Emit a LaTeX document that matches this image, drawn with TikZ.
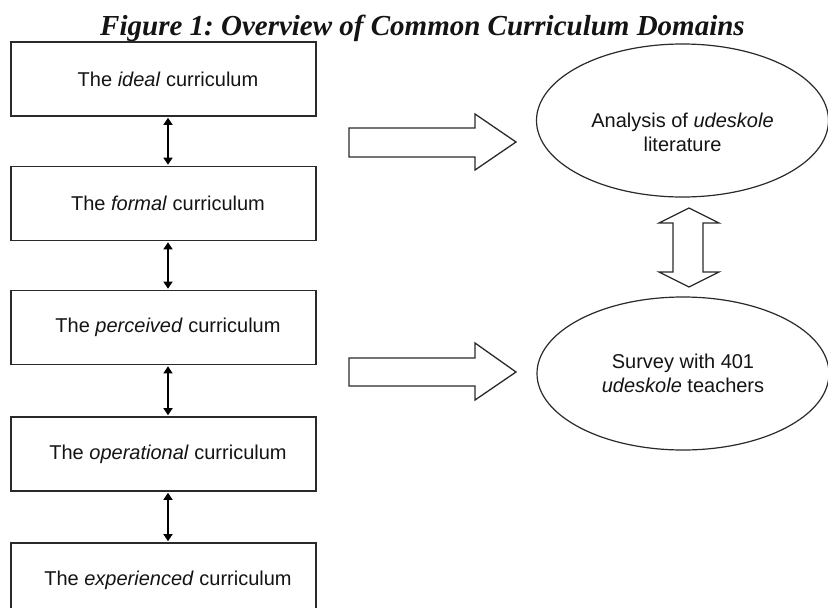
\documentclass[tikz,border=0pt]{standalone}
\usepackage{fontspec}
\setmainfont{Liberation Serif}
\newfontfamily\arialf{Liberation Sans}
\usetikzlibrary{shapes.geometric,arrows.meta}
\definecolor{linegray}{HTML}{2A2A2A}
\definecolor{textblack}{HTML}{141414}
\frenchspacing
\begin{document}
\begin{tikzpicture}[x=1pt,y=-1pt,
  every node/.style={text=textblack},
  cbox/.style={draw=linegray, line width=1.6pt, minimum width=305pt, minimum height=74pt,
    inner sep=0pt, font=\arialf\fontsize{20}{24}\selectfont},
  oval/.style={draw=linegray, line width=1.2pt, ellipse, minimum width=292pt, minimum height=153pt, inner sep=0pt},
  ovaltext/.style={align=center, font=\arialf\fontsize{20}{24}\selectfont, inner sep=0pt},
  link/.style={draw=black, line width=1.5pt, {Triangle[width=9pt,length=7pt]}-{Triangle[width=9pt,length=7pt]}},
  blockarrow/.style={draw=linegray, line width=1.3pt, fill=white, line join=miter}
]
\useasboundingbox (0,0) rectangle (828,608);
\fill[white] (0,0) rectangle (828,608);

% title
\node[anchor=base, inner sep=0pt, font=\fontsize{29}{34}\selectfont\bfseries\itshape] (title) at (422.5,35) {Figure 1: Overview of Common Curriculum Domains};

% curriculum boxes
\node[cbox] (b1) at (163.5,79)  {\hspace*{9pt}The \textit{ideal} curriculum};
\node[cbox] (b2) at (163.5,203.5) {\hspace*{9pt}The \textit{formal} curriculum};
\node[cbox] (b3) at (163.5,327.5) {\hspace*{9pt}The \textit{perceived} curriculum};
\node[cbox] (b4) at (163.5,454) {\hspace*{9pt}The \textit{operational} curriculum};
\node[cbox] (b5) at (163.5,580) {\hspace*{9pt}The \textit{experienced} curriculum};

\draw[link] ([xshift=4.5pt,yshift=-1pt]b1.south) -- ([xshift=4.5pt,yshift=1pt]b2.north);
\draw[link] ([xshift=4.5pt,yshift=-1pt]b2.south) -- ([xshift=4.5pt,yshift=1pt]b3.north);
\draw[link] ([xshift=4.5pt,yshift=-1pt]b3.south) -- ([xshift=4.5pt,yshift=1pt]b4.north);
\draw[link] ([xshift=4.5pt,yshift=-1pt]b4.south) -- ([xshift=4.5pt,yshift=1pt]b5.north);

% ellipses
\node[oval] (e1) at (682.5,120.5) {};
\node[ovaltext] (t1) at (682.5,132) {Analysis of \textit{udeskole}\\literature};
\node[oval] (e2) at (683,373.5) {};
\node[ovaltext] (t2) at (683,373) {Survey with 401\\\textit{udeskole} teachers};

% block arrows
\draw[blockarrow] (349,128) -- (475,128) -- (475,114) -- (516,142) -- (475,170) -- (475,157) -- (349,157) -- cycle;
\draw[blockarrow] (349,358) -- (475,358) -- (475,343) -- (516,372) -- (475,400) -- (475,386) -- (349,386) -- cycle;
\draw[blockarrow] (689,208) -- (719,223) -- (703,223) -- (703,272) -- (719,272) -- (689,287)
  -- (659,272) -- (673,272) -- (673,223) -- (659,223) -- cycle;
\end{tikzpicture}
\end{document}
